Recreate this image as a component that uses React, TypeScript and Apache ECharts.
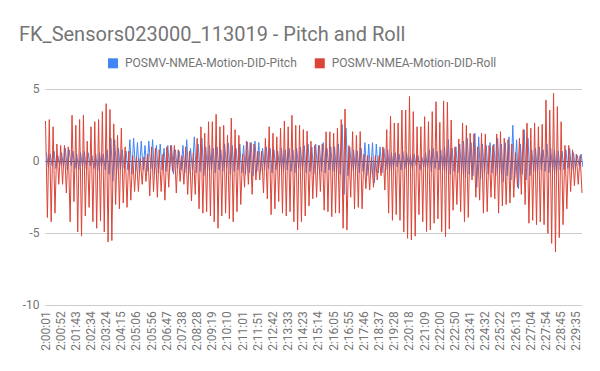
import React, { useEffect, useRef } from "react";
import * as echarts from "echarts";

const timeLabels = [
  "2:00:01", "2:00:52", "2:01:43", "2:02:34", "2:03:24", "2:04:15", "2:05:06", "2:05:56",
  "2:06:47", "2:07:38", "2:08:28", "2:09:19", "2:10:10", "2:11:01", "2:11:51", "2:12:42",
  "2:13:33", "2:14:23", "2:15:14", "2:16:05", "2:16:55", "2:17:46", "2:18:37", "2:19:28",
  "2:20:18", "2:21:09", "2:22:00", "2:22:50", "2:23:41", "2:24:32", "2:25:22", "2:26:13",
  "2:27:04", "2:27:54", "2:28:45", "2:29:35",
];

// samples per label interval
const PER_LABEL = 8;

const rollValues = [
  2.8, -3.9, 2.9, -4.2, 2.4, -3.6, 1.2, -1.6,
  1.1, -1.6, 1.1, -2.2, 1.0, -4.2, 3.2, -2.8,
  2.5, -4.9, 2.9, -5.2, 3.2, -3.8, 1.4, -3.2,
  2.4, -4.2, 2.75, -4.65, 2.9, -4.15, 3.45, -4.9,
  4.0, -5.6, 3.6, -5.5, 2.6, -3.0, 1.8, -3.3,
  2.3, -2.9, 1.0, -3.2, 0.7, -2.7, 0.4, -2.1,
  0.3, -2.1, 0.2, -1.6, 0.3, -1.4, 0.5, -2.4,
  1.0, -2.1, 0.9, -2.5, 0.8, -2.1, 0.5, -2.7,
  1.0, -1.8, 1.1, -0.7, 1.1, -2.2, 0.8, -1.4,
  0.4, -1.6, 1.0, -2.3, 0.7, -2.75, 0.6, -2.3,
  1.6, -3.3, 2.4, -3.6, 1.95, -3.5, 2.75, -3.8,
  2.75, -4.2, 3.26, -4.65, 2.4, -3.8, 2.5, -3.6,
  1.8, -4.0, 3.0, -4.2, 2.2, -3.5, 1.8, -3.0,
  0.5, -1.8, 1.4, -1.6, 1.3, -2.3, 1.2, -1.3,
  0.7, -1.3, 0.7, -2.2, 1.6, -2.6, 2.4, -3.7,
  1.95, -3.3, 1.7, -2.8, 2.3, -3.6, 2.8, -3.8,
  2.4, -3.5, 3.2, -4.2, 2.5, -4.77, 2.5, -4.2,
  2.2, -3.8, 2.1, -3.1, 1.4, -2.6, 1.1, -2.5,
  1.1, -2.1, 1.2, -3.4, 2.05, -3.5, 2.05, -3.85,
  1.95, -3.6, 2.3, -3.6, 2.9, -4.65, 3.63, -4.77,
  1.1, -2.5, 2.06, -3.3, 1.8, -3.2, 2.06, -3.3,
  0.5, -1.9, 0.4, -2.0, 0.3, -1.8, 0.4, -1.3,
  0.4, -1.0, 1.0, -2.0, 2.2, -3.6, 3.15, -4.1,
  2.65, -3.7, 2.65, -4.1, 3.56, -4.9, 3.56, -5.35,
  4.5, -5.46, 3.45, -5.2, 2.4, -3.7, 2.4, -4.2,
  3.1, -4.88, 2.75, -4.77, 3.45, -4.3, 4.14, -4.0,
  2.7, -4.88, 4.2, -5.23, 4.1, -4.7, 2.87, -3.4,
  1.0, -3.0, 1.55, -3.5, 2.65, -4.2, 2.5, -3.9,
  1.95, -1.3, 1.9, -2.5, 1.0, -2.7, 1.95, -3.6,
  1.9, -3.5, 1.1, -2.5, 1.1, -2.6, 1.9, -3.6,
  2.06, -3.1, 1.6, -3.0, 1.5, -2.9, 1.2, -2.5,
  0.6, -1.8, 1.6, -2.3, 2.2, -3.0, 2.65, -4.3,
  2.3, -4.1, 2.65, -4.4, 2.4, -4.2, 2.57, -4.4,
  4.26, -5.0, 3.56, -5.7, 4.72, -6.3, 3.8, -5.3,
  2.75, -4.4, 1.1, -3.3, 1.1, -2.1, 0.8, -1.7,
  0.5, -1.6, 0.4, -2.2,
];

const pitchValues = [
  0.6, -0.4, 0.5, -0.3, 0.7, -0.5, 0.4, -0.3,
  0.6, -0.4, 0.9, -0.6, 0.8, -0.3, 0.7, -0.5,
  0.5, -0.6, 0.6, -0.4, 0.7, -0.5, 0.6, -0.3,
  0.4, -0.5, 0.5, -0.7, 0.6, -0.4, 0.5, -0.6,
  0.8, -0.9, 1.6, -1.4, 1.5, -0.8, 0.9, -0.6,
  0.8, -0.5, 0.7, -0.6, 1.5, -0.9, 1.6, -0.7,
  1.3, -0.8, 1.4, -0.6, 1.1, -0.7, 1.4, -0.5,
  1.5, -0.9, 1.1, -0.8, 1.2, -0.6, 0.9, -0.7,
  1.1, -0.6, 1.1, -0.9, 0.8, -0.5, 0.7, -0.6,
  1.1, -0.8, 1.5, -0.9, 0.9, -0.6, 1.7, -0.8,
  1.2, -0.7, 1.6, -1.0, 1.0, -0.7, 1.1, -0.6,
  0.9, -0.8, 1.0, -0.6, 0.8, -0.7, 1.2, -0.5,
  1.25, -0.9, 1.1, -0.7, 0.9, -0.6, 1.2, -0.8,
  1.1, -0.9, 1.35, -0.8, 1.3, -1.0, 1.4, -0.7,
  1.3, -0.7, 0.9, -0.6, 1.0, -0.5, 0.9, -0.8,
  0.8, -0.6, 0.7, -0.5, 0.9, -0.7, 0.8, -0.6,
  0.9, -0.7, 0.8, -0.8, 0.9, -0.5, 1.0, -0.6,
  1.1, -0.8, 1.2, -0.7, 1.0, -0.9, 1.2, -0.6,
  1.1, -0.7, 1.3, -0.8, 0.9, -0.6, 1.0, -0.7,
  1.0, -0.8, 1.2, -0.9, 2.55, -2.3, 2.3, -1.0,
  1.0, -0.7, 0.8, -0.6, 0.7, -0.8, 0.9, -0.7,
  1.3, -1.0, 1.2, -0.9, 1.3, -1.5, 1.2, -0.8,
  1.0, -0.8, 0.9, -0.6, 0.8, -0.7, 0.6, -0.5,
  0.6, -0.4, 0.5, -0.6, 0.7, -0.5, 0.6, -0.4,
  0.4, -0.5, 0.5, -0.3, 0.4, -0.6, 0.3, -0.4,
  0.6, -0.5, 0.8, -0.7, 0.9, -0.5, 0.7, -0.6,
  0.8, -0.6, 1.0, -0.8, 1.5, -0.9, 0.9, -0.7,
  1.0, -0.8, 1.2, -0.9, 1.4, -1.1, 1.6, -0.9,
  1.3, -1.0, 1.95, -1.8, 1.7, -1.2, 1.2, -0.8,
  1.1, -0.9, 1.3, -0.8, 1.2, -1.0, 1.6, -0.9,
  1.2, -1.4, 1.3, -1.0, 1.7, -1.3, 2.5, -1.2,
  1.5, -1.9, 1.2, -0.9, 2.2, -1.3, 1.6, -1.0,
  0.8, -0.7, 0.9, -0.8, 1.0, -0.6, 0.8, -0.7,
  1.2, -0.8, 0.9, -0.7, 0.8, -0.9, 0.7, -0.6,
  0.7, -0.6, 0.8, -0.5, 0.9, -0.7, 0.6, -0.5,
  0.4, -0.3, 0.5, -0.4,
];

const seriesNames = ["POSMV-NMEA-Motion-DID-Pitch", "POSMV-NMEA-Motion-DID-Roll"];

export default function App() {
  const ref = useRef<HTMLDivElement>(null);
  useEffect(() => {
    if (!ref.current) return;
    const chart = echarts.init(ref.current, null, { renderer: "svg" });
    const rollData = rollValues.map((v, i) => [i, v]);
    const pitchData = pitchValues.map((v, i) => [i + 0.5, v]);
    const lastX = rollValues.length - 1;
    chart.setOption({
      animation: false,
      textStyle: { fontFamily: "Roboto" },
      title: {
        text: "FK_Sensors023000_113019 - Pitch and Roll",
        left: 19,
        top: 24,
        padding: 0,
        textStyle: { fontFamily: "Roboto", fontSize: 20, fontWeight: "normal", color: "#757575" },
      },
      legend: {
        left: 108,
        top: 57.3,
        padding: 0,
        itemWidth: 10,
        itemHeight: 10,
        itemGap: 18,
        icon: "rect",
        textStyle: { fontFamily: "Roboto", fontSize: 12, color: "#757575", padding: [0, 0, 0, 2] },
        data: seriesNames,
      },
      grid: { left: 45.5, right: 18, top: 89.3, bottom: 65.7 },
      xAxis: {
        type: "value",
        min: 0,
        max: lastX,
        interval: PER_LABEL,
        axisLine: { show: false },
        axisTick: { show: false },
        splitLine: { show: false },
        axisLabel: {
          rotate: 90,
          margin: 6,
          fontFamily: "Roboto",
          fontSize: 12,
          color: "#757575",
          showMaxLabel: true,
          formatter: (v: number) => (v % PER_LABEL === 0 ? timeLabels[v / PER_LABEL] ?? "" : ""),
        },
      },
      yAxis: {
        type: "value",
        min: -10,
        max: 5,
        interval: 5,
        axisLine: { show: false },
        axisTick: { show: false },
        splitLine: { lineStyle: { color: ["#cccccc", "#cccccc", "#333333", "#cccccc"], width: 1 } },
        axisLabel: { margin: 6, fontFamily: "Roboto", fontSize: 12, color: "#757575" },
      },
      series: [
        {
          name: seriesNames[0],
          type: "line",
          data: pitchData,
          showSymbol: false,
          symbol: "none",
          lineStyle: { color: "#4285F4", width: 1 },
          itemStyle: { color: "#4285F4" },
        },
        {
          name: seriesNames[1],
          type: "line",
          data: rollData,
          showSymbol: false,
          symbol: "none",
          lineStyle: { color: "#DB4437", width: 1 },
          itemStyle: { color: "#DB4437" },
        },
      ],
    });
    return () => chart.dispose();
  }, []);
  return (
    <div
      ref={ref}
      style={{ position: "absolute", left: 0, top: 0, width: 600, height: 371, background: "#ffffff" }}
    />
  );
}
